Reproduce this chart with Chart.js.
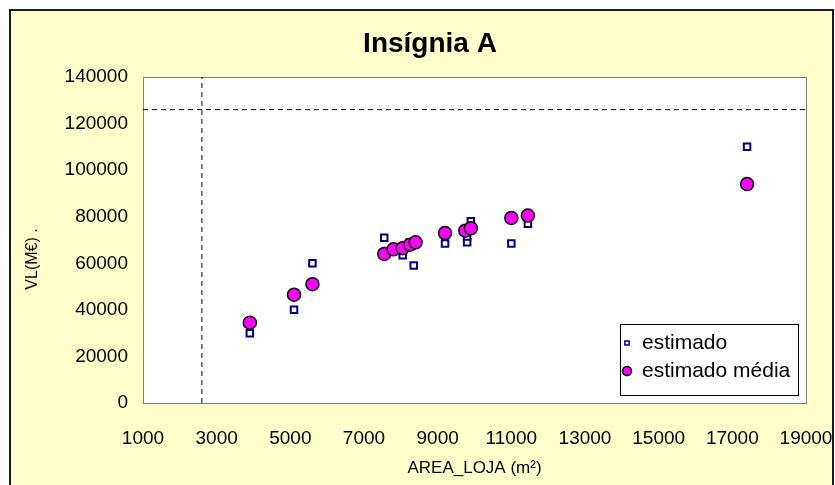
<!DOCTYPE html>
<html>
<head>
<meta charset="utf-8">
<script src="https://cdn.jsdelivr.net/npm/chart.js@4"></script>
<style>
    body { margin: 0; background: #fff; }
    canvas { display: block; }
</style>
</head>
<body>
<canvas id="insigniaChart" width="835" height="485"></canvas>
<script>
// data
const areaEstimado = [3900, 5100, 5600, 7550, 8050, 8250, 8350, 9200, 9800, 9800, 9900, 11000, 11450, 17400];
const vlEstimado = [30000, 40000, 60000, 71000, 63500, 69000, 59000, 68500, 69000, 71500, 78000, 68500, 77000, 110000];

const areaMedia = [3900, 5100, 5600, 7550, 7800, 8050, 8250, 8400, 9200, 9750, 9900, 11000, 11450, 17400];
const vlMedia = [34500, 46500, 51000, 64000, 66000, 66500, 68000, 69000, 73000, 74000, 75000, 79500, 80500, 94000];

// dashed reference lines
const limitAreaX = [2600, 2600];
const limitAreaY = [0, 140000];
const limitVlX = [1000, 19000];
const limitVlY = [126000, 126000];

const xTicks = { min: 1000, max: 19000, step: 2000 };
const yTicks = { min: 0, max: 140000, step: 20000 };

const FONT = "'Liberation Sans', Arial, sans-serif";

const toPoints = (xs, ys) => xs.map((x, i) => ({ x: x, y: ys[i] }));

const frame = { left: 10, top: 10, right: 833, bottom: 500 };

const backgroundPlugin = {
    id: 'background',
    beforeDraw(chart) {
        const ctx = chart.ctx;
        const area = chart.chartArea;
        ctx.save();
        ctx.fillStyle = '#ffffff';
        ctx.fillRect(0, 0, chart.width, chart.height);
        ctx.fillStyle = '#ffffcc';
        ctx.fillRect(frame.left, frame.top, frame.right - frame.left, frame.bottom - frame.top);
        ctx.fillStyle = '#ffffff';
        ctx.fillRect(area.left, area.top, area.right - area.left, area.bottom - area.top);
        ctx.restore();
    },
    beforeDatasetsDraw(chart) {
        const ctx = chart.ctx;
        const area = chart.chartArea;
        ctx.save();
        ctx.strokeStyle = '#808080';
        ctx.lineWidth = 1;
        ctx.strokeRect(Math.round(area.left) + 0.5, Math.round(area.top) + 0.5,
            Math.round(area.right - area.left), Math.round(area.bottom - area.top));
        ctx.restore();
    },
    afterDraw(chart) {
        const ctx = chart.ctx;
        ctx.save();
        // outer frame
        ctx.strokeStyle = '#1a1a1a';
        ctx.lineWidth = 2;
        ctx.strokeRect(frame.left, frame.top, frame.right - frame.left, frame.bottom - frame.top);

        // y axis title
        ctx.fillStyle = '#000';
        ctx.font = '16px ' + FONT;
        ctx.textAlign = 'center';
        ctx.textBaseline = 'middle';
        ctx.translate(33, 259);
        ctx.rotate(-Math.PI / 2);
        ctx.fillText('VL(M€) .', 0, 0);
        ctx.restore();

        // legend box
        const box = { x: 620, y: 324, w: 178, h: 71 };
        ctx.save();
        ctx.fillStyle = '#ffffff';
        ctx.fillRect(box.x, box.y, box.w, box.h);
        ctx.strokeStyle = '#000';
        ctx.lineWidth = 1;
        ctx.strokeRect(box.x + 0.5, box.y + 0.5, box.w, box.h);

        const items = [
            { ds: chart.data.datasets[0], y: 343, radius: 3 },
            { ds: chart.data.datasets[1], y: 371, radius: 4.5 }
        ];
        items.forEach(item => {
            ctx.fillStyle = item.ds.backgroundColor;
            ctx.strokeStyle = item.ds.borderColor;
            ctx.lineWidth = 1.5;
            Chart.helpers.drawPoint(ctx, {
                pointStyle: item.ds.pointStyle,
                radius: item.radius,
                rotation: 0,
                borderWidth: 1.5
            }, 627, item.y);
            ctx.fillStyle = '#000';
            ctx.font = '21px ' + FONT;
            ctx.textAlign = 'left';
            ctx.textBaseline = 'middle';
            ctx.fillText(item.ds.label, 642, item.y);
        });
        ctx.restore();
    }
};

const dashedLine = (xs, ys) => ({
    label: '',
    data: toPoints(xs, ys),
    showLine: true,
    borderColor: '#000',
    borderWidth: 1,
    borderDash: [5, 4],
    pointRadius: 0,
    order: 3
});

new Chart(document.getElementById('insigniaChart'), {
    type: 'scatter',
    data: {
        datasets: [
            {
                label: 'estimado',
                data: toPoints(areaEstimado, vlEstimado),
                pointStyle: 'rect',
                pointRadius: 4.6,
                backgroundColor: '#ffffff',
                borderColor: '#000080',
                borderWidth: 2,
                order: 2
            },
            {
                label: 'estimado média',
                data: toPoints(areaMedia, vlMedia),
                pointStyle: 'circle',
                pointRadius: 6.5,
                backgroundColor: '#ff00ff',
                borderColor: '#000',
                borderWidth: 1.5,
                order: 1
            },
            dashedLine(limitAreaX, limitAreaY),
            dashedLine(limitVlX, limitVlY)
        ]
    },
    options: {
        responsive: false,
        animation: false,
        layout: { padding: { left: 54, right: 29, top: 0, bottom: 0 } },
        plugins: {
            legend: { display: false },
            tooltip: { enabled: false },
            title: {
                display: true,
                text: 'Insígnia A',
                color: '#000',
                font: { family: FONT, size: 28, weight: 'bold' },
                padding: { top: 27, bottom: 16.4 }
            }
        },
        scales: {
            x: {
                type: 'linear',
                min: xTicks.min,
                max: xTicks.max,
                grid: { display: false, drawTicks: false },
                border: { display: false },
                ticks: {
                    stepSize: xTicks.step,
                    color: '#000',
                    padding: 24,
                    maxRotation: 0,
                    font: { family: FONT, size: 19 },
                    callback: v => String(v)
                },
                title: {
                    display: true,
                    text: 'AREA_LOJA (m²)',
                    color: '#000',
                    font: { family: FONT, size: 17 },
                    padding: { top: 0, bottom: 6 }
                },
                afterFit(scale) {
                    scale.height = 82;
                    scale.paddingLeft = 0;
                    scale.paddingRight = 0;
                }
            },
            y: {
                type: 'linear',
                min: yTicks.min,
                max: yTicks.max,
                grid: { display: false, drawTicks: false },
                border: { display: false },
                ticks: {
                    stepSize: yTicks.step,
                    color: '#000',
                    padding: 15,
                    font: { family: FONT, size: 19 },
                    callback: v => String(v)
                },
                afterFit(scale) {
                    scale.width = 89;
                    scale.paddingTop = 0;
                    scale.paddingBottom = 0;
                }
            }
        }
    },
    plugins: [backgroundPlugin]
});
</script>
</body>
</html>
